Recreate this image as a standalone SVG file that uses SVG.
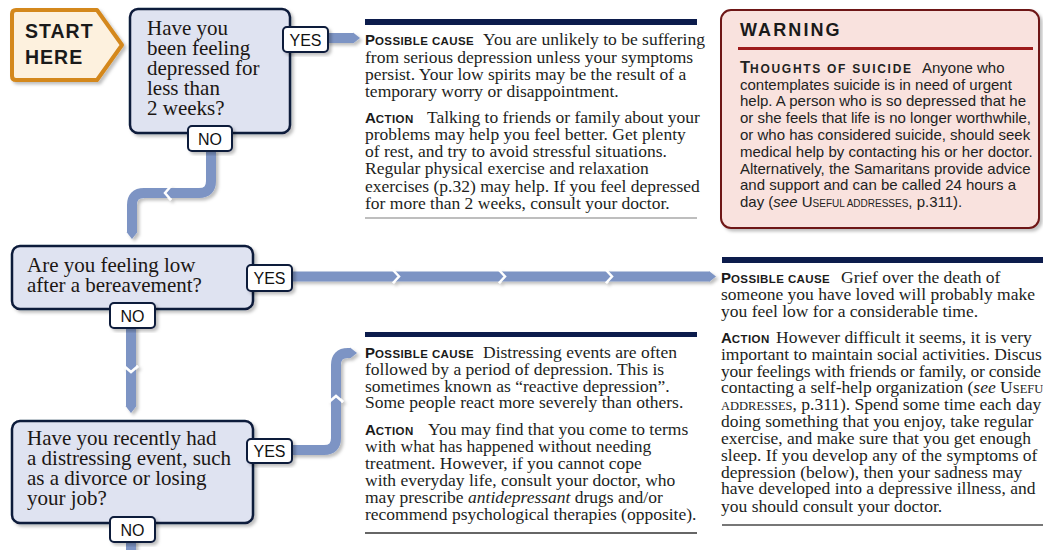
<svg xmlns="http://www.w3.org/2000/svg" width="1043" height="550" viewBox="0 0 1043 550">
  <style>
    .q { fill: #dfe3f1; stroke: #0e1a3a; stroke-width: 2.5; }
    .lbl { fill: #ffffff; stroke: #0e1a3a; stroke-width: 2; }
    .lt { font-family: "Liberation Sans", Arial, sans-serif; font-size: 16px; fill: #111111; text-anchor: middle; }
    .qt { font-family: "Liberation Serif", "Times New Roman", serif; font-size: 21px; fill: #1c1714; }
    .bt { font-family: "Liberation Serif", "Times New Roman", serif; font-size: 17.5px; fill: #221e1c; }
    .cap { font-family: "Liberation Sans", Arial, sans-serif; font-weight: bold; font-size: 15px; fill: #1a1a1a; }
    .sm { font-family: "Liberation Sans", Arial, sans-serif; font-weight: bold; font-size: 11.5px; letter-spacing: 0.4px; fill: #1a1a1a; }
    .wt { font-family: "Liberation Sans", Arial, sans-serif; font-size: 15px; fill: #222222; }
    .conn { fill: none; stroke: #7d94c4; stroke-width: 10; }
    .gap { fill: none; stroke: #ffffff; stroke-width: 2.5; }
    .bar { fill: #0c1c4c; }
  </style>
  <defs>
    <filter id="shadow" x="-10%" y="-10%" width="130%" height="130%">
      <feDropShadow dx="2.5" dy="2.5" stdDeviation="1.5" flood-color="#000000" flood-opacity="0.25"/>
    </filter>
    <marker id="tip" markerUnits="userSpaceOnUse" viewBox="0 0 8 12" markerWidth="8" markerHeight="12" refX="0" refY="6" orient="auto">
      <path d="M0,0.5 L7,6 L0,11.5 z" fill="#7d94c4"/>
    </marker>
  </defs>

  <rect width="1043" height="550" fill="#ffffff"/>

  <!-- connectors -->
  <g id="connectors" filter="url(#shadow)">
    <path class="conn" d="M326,38 H353" marker-end="url(#tip)"/>
    <path class="conn" d="M211,150 V181 Q211,193 199,193 H144 Q132,193 132,205 V232" marker-end="url(#tip)"/>
    <path class="conn" d="M290,276.5 H709" marker-end="url(#tip)"/>
    <path class="conn" d="M131,326 V406" marker-end="url(#tip)"/>
    <path class="conn" d="M290,450 H324 Q336,450 336,438 V365 Q336,353 348,353 H350" marker-end="url(#tip)"/>
    <path class="conn" d="M131,540 V552"/>
    <!-- breaks between chained arrow segments -->
    <path class="gap" d="M171,186 L165,193 L171,200"/>
    <path class="gap" d="M393,270 L399,276.5 L393,283"/>
    <path class="gap" d="M499,270 L505,276.5 L499,283"/>
    <path class="gap" d="M606,270 L612,276.5 L606,283"/>
    <path class="gap" d="M124,366 L131,372 L138,366"/>
    <path class="gap" d="M329,402 L336,396 L343,402"/>
  </g>

  <!-- start marker -->
  <g id="start">
    <path d="M16,10 H97 L122,45 L97,80 H16 Q12,80 12,76 V14 Q12,10 16,10 Z" fill="#fdf1de" stroke="#d4881f" stroke-width="4" stroke-linejoin="round" filter="url(#shadow)"/>
    <text x="25" y="38" font-family="Liberation Sans, Arial, sans-serif" font-weight="bold" font-size="19.5" letter-spacing="1" fill="#1a1a1a">START</text>
    <text x="25" y="64" font-family="Liberation Sans, Arial, sans-serif" font-weight="bold" font-size="19.5" letter-spacing="1" fill="#1a1a1a">HERE</text>
  </g>

  <!-- question 1 -->
  <g id="q1">
    <rect class="q" x="130" y="9" width="160" height="124" rx="8" filter="url(#shadow)"/>
    <text class="qt" x="147" y="35">Have you</text>
    <text class="qt" x="147" y="55">been feeling</text>
    <text class="qt" x="147" y="75">depressed for</text>
    <text class="qt" x="147" y="95">less than</text>
    <text class="qt" x="147" y="115">2 weeks?</text>
    <rect class="lbl" x="283" y="27" width="45" height="25" rx="4" filter="url(#shadow)"/>
    <text class="lt" x="305.5" y="45.5">YES</text>
    <rect class="lbl" x="188" y="126" width="44" height="25" rx="4" filter="url(#shadow)"/>
    <text class="lt" x="210" y="144.5">NO</text>
  </g>

  <!-- question 2 -->
  <g id="q2">
    <rect class="q" x="12" y="246" width="241" height="63" rx="8" filter="url(#shadow)"/>
    <text class="qt" x="27" y="272">Are you feeling low</text>
    <text class="qt" x="27" y="292">after a bereavement?</text>
    <rect class="lbl" x="247" y="265" width="45" height="26" rx="4" filter="url(#shadow)"/>
    <text class="lt" x="269.5" y="284">YES</text>
    <rect class="lbl" x="110" y="303" width="45" height="25" rx="4" filter="url(#shadow)"/>
    <text class="lt" x="132.5" y="321.5">NO</text>
  </g>

  <!-- question 3 -->
  <g id="q3">
    <rect class="q" x="12" y="421" width="241" height="102" rx="8" filter="url(#shadow)"/>
    <text class="qt" x="27" y="445">Have you recently had</text>
    <text class="qt" x="27" y="465">a distressing event, such</text>
    <text class="qt" x="27" y="485">as a divorce or losing</text>
    <text class="qt" x="27" y="505">your job?</text>
    <rect class="lbl" x="247" y="439" width="45" height="24" rx="4" filter="url(#shadow)"/>
    <text class="lt" x="269.5" y="457">YES</text>
    <rect class="lbl" x="110" y="517" width="45" height="25" rx="4" filter="url(#shadow)"/>
    <text class="lt" x="132.5" y="535.5">NO</text>
  </g>

  <!-- outcome: short-term low mood -->
  <g id="outcome-short">
    <rect class="bar" x="365" y="19" width="332" height="6"/>
    <text class="bt" x="365" y="45"><tspan class="cap">P</tspan><tspan class="sm">OSSIBLE CAUSE</tspan><tspan x="483">You are unlikely to be suffering</tspan></text>
    <text class="bt" x="365" y="62.5">from serious depression unless your symptoms</text>
    <text class="bt" x="365" y="80">persist. Your low spirits may be the result of a</text>
    <text class="bt" x="365" y="97">temporary worry or disappointment.</text>
    <text class="bt" x="365" y="122.5"><tspan class="cap">A</tspan><tspan class="sm">CTION</tspan><tspan x="427">Talking to friends or family about your</tspan></text>
    <text class="bt" x="365" y="139.8">problems may help you feel better. Get plenty</text>
    <text class="bt" x="365" y="157">of rest, and try to avoid stressful situations.</text>
    <text class="bt" x="365" y="174.2">Regular physical exercise and relaxation</text>
    <text class="bt" x="365" y="191.5">exercises (p.32) may help. If you feel depressed</text>
    <text class="bt" x="365" y="208.7">for more than 2 weeks, consult your doctor.</text>
    <line x1="365" y1="218" x2="697" y2="218" stroke="#a8a8a8" stroke-width="1.5"/>
  </g>

  <!-- warning panel -->
  <g id="warning">
    <rect x="721" y="10" width="318" height="218" rx="10" fill="#f9e2de" stroke="#6e1515" stroke-width="2" filter="url(#shadow)"/>
    <text x="740" y="36" font-family="Liberation Sans, Arial, sans-serif" font-weight="bold" font-size="18" letter-spacing="2.1" fill="#1a1a1a">WARNING</text>
    <line x1="738" y1="48.5" x2="1033" y2="48.5" stroke="#9e1b1b" stroke-width="3"/>
    <text class="wt" x="740" y="72.7"><tspan font-weight="bold" font-size="16.5">T</tspan><tspan font-weight="bold" font-size="12" letter-spacing="1.7">HOUGHTS OF SUICIDE</tspan><tspan x="922">Anyone who</tspan></text>
    <text class="wt" x="740" y="89.5">contemplates suicide is in need of urgent</text>
    <text class="wt" x="740" y="106.3">help. A person who is so depressed that he</text>
    <text class="wt" x="740" y="123.1">or she feels that life is no longer worthwhile,</text>
    <text class="wt" x="740" y="139.9">or who has considered suicide, should seek</text>
    <text class="wt" x="740" y="156.7">medical help by contacting his or her doctor.</text>
    <text class="wt" x="740" y="173.5">Alternatively, the Samaritans provide advice</text>
    <text class="wt" x="740" y="190.3">and support and can be called 24 hours a</text>
    <text class="wt" x="740" y="207.1">day (<tspan font-style="italic">see</tspan> U<tspan font-size="10">SEFUL ADDRESSES</tspan>, p.311).</text>
  </g>

  <!-- outcome: bereavement -->
  <g id="outcome-grief">
    <rect class="bar" x="722" y="257" width="321" height="6"/>
    <text class="bt" x="721" y="283.3"><tspan class="cap">P</tspan><tspan class="sm">OSSIBLE CAUSE</tspan><tspan x="841">Grief over the death of</tspan></text>
    <text class="bt" x="721" y="300">someone you have loved will probably make</text>
    <text class="bt" x="721" y="316.7">you feel low for a considerable time.</text>
    <text class="bt" x="721" y="343.3"><tspan class="cap">A</tspan><tspan class="sm">CTION</tspan><tspan x="776">However difficult it seems, it is very</tspan></text>
    <text class="bt" x="721" y="360">important to maintain social activities. Discus</text>
    <text class="bt" x="721" y="376.7" textLength="320" lengthAdjust="spacing">your feelings with friends or family, or conside</text>
    <text class="bt" x="721" y="393.3">contacting a self-help organization (<tspan font-style="italic">see</tspan> U<tspan font-size="12.5">SEFU</tspan></text>
    <text class="bt" x="721" y="410"><tspan font-size="12.5">ADDRESSES</tspan>, p.311). Spend some time each day</text>
    <text class="bt" x="721" y="427.3">doing something that you enjoy, take regular</text>
    <text class="bt" x="721" y="444">exercise, and make sure that you get enough</text>
    <text class="bt" x="721" y="460.7">sleep. If you develop any of the symptoms of</text>
    <text class="bt" x="721" y="477.7">depression (below), then your sadness may</text>
    <text class="bt" x="721" y="494.3">have developed into a depressive illness, and</text>
    <text class="bt" x="721" y="511.7">you should consult your doctor.</text>
    <line x1="722" y1="525" x2="1043" y2="525" stroke="#777777" stroke-width="2"/>
  </g>

  <!-- outcome: reactive depression -->
  <g id="outcome-event">
    <rect class="bar" x="365" y="332" width="332" height="5"/>
    <text class="bt" x="365" y="357.7"><tspan class="cap">P</tspan><tspan class="sm">OSSIBLE CAUSE</tspan><tspan x="483">Distressing events are often</tspan></text>
    <text class="bt" x="365" y="375">followed by a period of depression. This is</text>
    <text class="bt" x="365" y="391.7">sometimes known as “reactive depression”.</text>
    <text class="bt" x="365" y="408.3">Some people react more severely than others.</text>
    <text class="bt" x="365" y="435"><tspan class="cap">A</tspan><tspan class="sm">CTION</tspan><tspan x="428">You may find that you come to terms</tspan></text>
    <text class="bt" x="365" y="452.3">with what has happened without needing</text>
    <text class="bt" x="365" y="469">treatment. However, if you cannot cope</text>
    <text class="bt" x="365" y="486">with everyday life, consult your doctor, who</text>
    <text class="bt" x="365" y="503.3">may prescribe <tspan font-style="italic">antidepressant</tspan> drugs and/or</text>
    <text class="bt" x="365" y="520">recommend psychological therapies (opposite).</text>
    <line x1="365" y1="533" x2="697" y2="533" stroke="#666666" stroke-width="2"/>
  </g>
</svg>
